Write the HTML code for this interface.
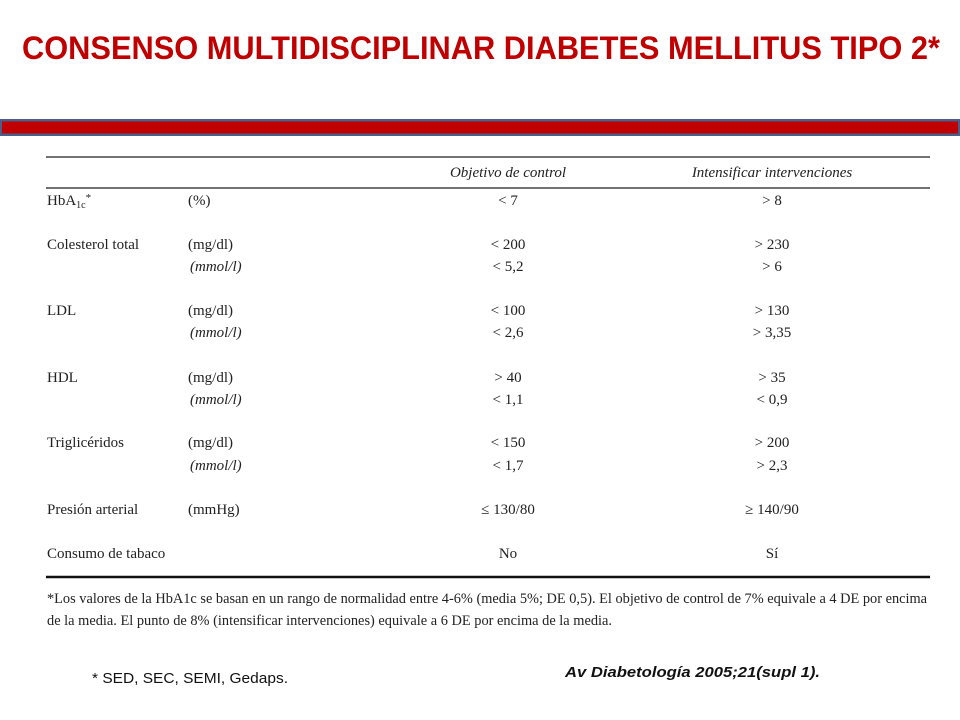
<!DOCTYPE html>
<html><head><meta charset="utf-8"><style>
html,body{margin:0;padding:0;background:#fff;}
svg{display:block;}
.t{font-family:"Liberation Serif",serif;font-size:15px;fill:#222;}
.i{font-style:italic;}
.m{text-anchor:middle;}
</style></head><body>
<svg width="960" height="720" viewBox="0 0 960 720">
<text x="22" y="59" textLength="918" lengthAdjust="spacingAndGlyphs" font-family="Liberation Sans, sans-serif" font-weight="bold" font-size="32" fill="#c00000">CONSENSO MULTIDISCIPLINAR DIABETES MELLITUS TIPO 2*</text>
<rect x="0" y="119" width="960" height="17" fill="#4a5f8a"/>
<rect x="2" y="121.5" width="956" height="12" fill="#c00000"/>
<g>
<line x1="46" y1="157" x2="930" y2="157" stroke="#444" stroke-width="1.5"/>
<line x1="46" y1="188" x2="930" y2="188" stroke="#444" stroke-width="1.5"/>
<line x1="46" y1="577" x2="930" y2="577" stroke="#111" stroke-width="2.5"/>
<text class="t i m" x="508" y="177">Objetivo de control</text>
<text class="t i m" x="772" y="177">Intensificar intervenciones</text>

<text class="t" x="47" y="205">HbA<tspan font-size="10" dy="3">1c</tspan><tspan dy="-7" font-size="11">*</tspan></text>
<text class="t" x="188" y="205">(%)</text><text class="t m" x="508" y="205">&lt; 7</text><text class="t m" x="772" y="205">&gt; 8</text>

<text class="t" x="47" y="249">Colesterol total</text>
<text class="t" x="188" y="249">(mg/dl)</text><text class="t m" x="508" y="249">&lt; 200</text><text class="t m" x="772" y="249">&gt; 230</text>
<text class="t i" x="190" y="271">(mmol/l)</text><text class="t m" x="508" y="271">&lt; 5,2</text><text class="t m" x="772" y="271">&gt; 6</text>

<text class="t" x="47" y="315">LDL</text>
<text class="t" x="188" y="315">(mg/dl)</text><text class="t m" x="508" y="315">&lt; 100</text><text class="t m" x="772" y="315">&gt; 130</text>
<text class="t i" x="190" y="337">(mmol/l)</text><text class="t m" x="508" y="337">&lt; 2,6</text><text class="t m" x="772" y="337">&gt; 3,35</text>

<text class="t" x="47" y="382">HDL</text>
<text class="t" x="188" y="382">(mg/dl)</text><text class="t m" x="508" y="382">&gt; 40</text><text class="t m" x="772" y="382">&gt; 35</text>
<text class="t i" x="190" y="404">(mmol/l)</text><text class="t m" x="508" y="404">&lt; 1,1</text><text class="t m" x="772" y="404">&lt; 0,9</text>

<text class="t" x="47" y="447">Triglicéridos</text>
<text class="t" x="188" y="447">(mg/dl)</text><text class="t m" x="508" y="447">&lt; 150</text><text class="t m" x="772" y="447">&gt; 200</text>
<text class="t i" x="190" y="470">(mmol/l)</text><text class="t m" x="508" y="470">&lt; 1,7</text><text class="t m" x="772" y="470">&gt; 2,3</text>

<text class="t" x="47" y="514">Presión arterial</text>
<text class="t" x="188" y="514">(mmHg)</text><text class="t m" x="508" y="514">≤ 130/80</text><text class="t m" x="772" y="514">≥ 140/90</text>

<text class="t" x="47" y="558">Consumo de tabaco</text>
<text class="t m" x="508" y="558">No</text><text class="t m" x="772" y="558">Sí</text>

<text class="t" x="47" y="603" font-size="13" textLength="880" lengthAdjust="spacingAndGlyphs">*Los valores de la HbA1c se basan en un rango de normalidad entre 4-6% (media 5%; DE 0,5). El objetivo de control de 7% equivale a 4 DE por encima</text>
<text class="t" x="47" y="625" font-size="13" textLength="565" lengthAdjust="spacingAndGlyphs">de la media. El punto de 8% (intensificar intervenciones) equivale a 6 DE por encima de la media.</text>
</g>
<text x="92" y="683" font-family="Liberation Sans, sans-serif" font-size="15" fill="#111" textLength="196" lengthAdjust="spacingAndGlyphs">* SED, SEC, SEMI, Gedaps.</text>
<text x="565" y="677" font-family="Liberation Sans, sans-serif" font-size="15" font-style="italic" font-weight="bold" fill="#111" textLength="255" lengthAdjust="spacingAndGlyphs">Av Diabetología 2005;21(supl 1).</text>
</svg>
</body></html>
